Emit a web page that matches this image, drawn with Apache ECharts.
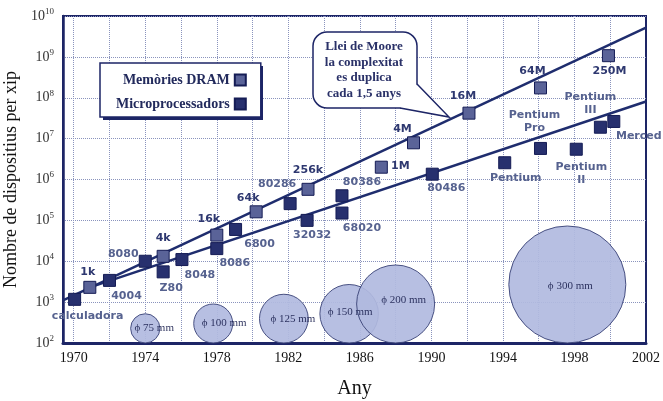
<!DOCTYPE html>
<html>
<head>
<meta charset="utf-8">
<script src="https://cdn.jsdelivr.net/npm/echarts@6/dist/echarts.min.js"></script>
<style>
  html, body { margin: 0; padding: 0; background: #fff; }
  #chart { width: 663px; height: 401px; }
</style>
</head>
<body>
<div id="chart"></div>
<script>
var dramNames = ['1k', '4k', '16k', '64k', '256k', '1M', '4M', '16M', '64M', '250M'];
var dramYears = [1970.9, 1975.0, 1978.0, 1980.2, 1983.1, 1987.2, 1989.0, 1992.1, 1996.1, 1999.9];
var dramCounts = [2300, 13200, 43600, 162000, 575000, 2.0e6, 7.9e6, 4.2e7, 1.74e8, 1.07e9];

var cpuNames = ['calculadora', '4004', '8080', 'Z80', '8048', '8086', '6800', '80286', '32032',
  '80386', '68020', '80486', 'Pentium', 'Pentium\nPro', 'Pentium\nII', 'Pentium\nIII', 'Merced'];
var cpuYears = [1970.05, 1972.0, 1974.0, 1975.0, 1976.05, 1978.0, 1979.05, 1982.1, 1983.05,
  1985.0, 1985.0, 1990.05, 1994.1, 1996.1, 1998.1, 1999.45, 2000.2];
var cpuCounts = [1170, 3400, 10000, 5500, 11000, 20400, 60000, 257000, 100000,
  400000, 151000, 1.35e6, 2.57e6, 5.75e6, 5.5e6, 1.9e7, 2.63e7];

// trend lines, end points
var dramTrendYears = [1969.4, 2002];
var dramTrendCounts = [1.1e3, 5.2e9];
var cpuTrendYears = [1970.9, 2002];
var cpuTrendCounts = [2.3e3, 8.1e7];

// wafer diameters (mm) and where they sit on the time axis
var waferMm = [75, 100, 125, 150, 200, 300];
var waferYears = [1974.0, 1977.8, 1981.75, 1985.4, 1988.0, 1997.6];

var yearLabels = [1970, 1974, 1978, 1982, 1986, 1990, 1994, 1998, 2002];
var gridYears = [1970, 1972, 1974, 1976, 1978, 1980, 1982, 1984, 1986, 1988, 1990, 1992, 1994, 1996, 1998, 2000];

// label placement (offset from the marker centre, px)
var labelOffset = {
  '1k': [-2, -15], '4k': [0, -18], '16k': [-8, -16], '64k': [-8, -14], '256k': [0, -19],
  '1M': [19, -1], '4M': [-11, -14], '16M': [-6, -17], '64M': [-8, -17], '250M': [1, 15],
  'calculadora': [13, 17], '4004': [17, 16], '8080': [-22, -7], 'Z80': [8, 16], '8048': [18, 16],
  '8086': [18, 15], '6800': [24, 15], '80286': [-13, -19], '32032': [5, 15], '80386': [20, -14],
  '68020': [20, 15], '80486': [14, 14], 'Pentium': [11, 15], 'Pentium\nPro': [-6, -27],
  'Pentium\nII': [5, 24], 'Pentium\nIII': [-10, -24], 'Merced': [25, 15]
};
var waferLabelOffset = [[9, 0], [11, 0], [9, 0], [1, -2], [8, -4], [3, 2]];

var navy = '#1d2566';
var gridCol = '#8a93bd';

function pts(names, xs, ys, labelColor) {
  return xs.map(function(x, i) {
    return {
      name: names[i],
      value: [x, ys[i]],
      label: { offset: labelOffset[names[i]], color: labelColor }
    };
  });
}

var chart = echarts.init(document.getElementById('chart'), null, { renderer: 'canvas' });
chart.setOption({
  animation: false,
  grid: {
    left: 63, right: 17, top: 16, bottom: 58,
    show: true, borderColor: navy, borderWidth: 2,
    outerBoundsMode: 'none'
  },
  legend: {
    left: 100, top: 63, z: 6,
    orient: 'vertical',
    align: 'right',
    selectedMode: false,
    data: ['Memòries DRAM', 'Microprocessadors'],
    icon: 'rect',
    itemWidth: 11, itemHeight: 11, itemGap: 10,
    padding: [10, 14, 6, 16],
    backgroundColor: '#fff',
    borderColor: navy, borderWidth: 1.5,
    textStyle: { fontFamily: 'Liberation Serif', fontWeight: 'bold', fontSize: 14, color: '#222a5c' }
  },
  xAxis: {
    type: 'value',
    min: 1969.4, max: 2002,
    name: 'Any',
    nameLocation: 'middle',
    nameGap: 36,
    nameTextStyle: { fontFamily: 'Liberation Serif', fontSize: 20, color: '#111' },
    axisLine: { lineStyle: { color: navy, width: 3 } },
    axisTick: { show: false, customValues: gridYears },
    splitLine: { show: true, lineStyle: { color: gridCol, type: 'dotted', width: 1 } },
    axisLabel: {
      customValues: yearLabels,
      margin: 8,
      fontFamily: 'Liberation Serif', fontSize: 14, color: '#111',
      formatter: function(v) { return String(Math.round(v)); }
    }
  },
  yAxis: {
    type: 'log',
    logBase: 10,
    min: 100, max: 1e10,
    name: 'Nombre de dispositius per xip',
    nameLocation: 'middle',
    nameGap: 32,
    nameTextStyle: { fontFamily: 'Liberation Serif', fontSize: 18, color: '#111' },
    axisLine: { lineStyle: { color: navy, width: 2.5 } },
    axisTick: { show: false },
    splitLine: { lineStyle: { color: gridCol, type: 'dotted', width: 1 } },
    axisLabel: {
      margin: 9,
      fontFamily: 'Liberation Serif', fontSize: 14, color: '#333',
      formatter: function(v) { return '10{e|' + Math.round(Math.log10(v)) + '}'; },
      rich: { e: { fontFamily: 'Liberation Serif', fontSize: 9, color: '#333', padding: [0, 0, 9, 0] } }
    }
  },
  series: [
    {
      type: 'scatter', name: 'wafers', z: 1, silent: true,
      data: waferYears.map(function(y) { return [y, 100]; }),
      symbol: 'circle',
      symbolSize: function(v, p) { return waferMm[p.dataIndex] * 0.39; },
      symbolOffset: [0, '-50%'],
      itemStyle: { color: '#b1badf', borderColor: '#3c4478', borderWidth: 1, opacity: 0.92 },
      label: {
        show: true, position: 'inside',
        fontFamily: 'Liberation Serif', fontSize: 11, color: '#1c2250',
        formatter: function(p) { return 'ϕ ' + waferMm[p.dataIndex] + ' mm'; }
      },
      labelLayout: function(p) {
        var o = waferLabelOffset[p.dataIndex];
        return { dx: o[0], dy: o[1] };
      }
    },
    {
      type: 'line', name: 'dramTrend', z: 2, silent: true,
      data: dramTrendYears.map(function(y, i) { return [y, dramTrendCounts[i]]; }),
      symbol: 'none',
      lineStyle: { color: '#1f2d6e', width: 2.5 }
    },
    {
      type: 'line', name: 'cpuTrend', z: 2, silent: true,
      data: cpuTrendYears.map(function(y, i) { return [y, cpuTrendCounts[i]]; }),
      symbol: 'none',
      lineStyle: { color: '#1f2d6e', width: 2.5 }
    },
    {
      type: 'scatter', name: 'Memòries DRAM', z: 3,
      data: pts(dramNames, dramYears, dramCounts, '#2e3870'),
      symbol: 'rect', symbolSize: 12,
      itemStyle: { color: '#5a6398', borderColor: '#151c55', borderWidth: 1, opacity: 1 },
      label: {
        show: true, position: 'inside',
        fontFamily: 'DejaVu Sans', fontWeight: 'bold', fontSize: 11, lineHeight: 13,
        formatter: function(p) { return p.name; }
      }
    },
    {
      type: 'scatter', name: 'Microprocessadors', z: 3,
      data: pts(cpuNames, cpuYears, cpuCounts, '#56628f'),
      symbol: 'rect', symbolSize: 12,
      itemStyle: { color: '#27306e', borderColor: '#151c55', borderWidth: 1, opacity: 1 },
      label: {
        show: true, position: 'inside',
        fontFamily: 'DejaVu Sans', fontWeight: 'bold', fontSize: 11, lineHeight: 13,
        formatter: function(p) { return p.name; }
      }
    }
  ],
  graphic: [
    {
      // drop shadow behind the legend box
      type: 'rect', z: 5,
      shape: { x: 103, y: 66, width: 160, height: 54 },
      style: { fill: navy }
    },
    {
      type: 'rect', z: 10,
      shape: { x: 313, y: 32, width: 104, height: 76, r: 14 },
      style: { fill: '#fff', stroke: navy, lineWidth: 1.5 }
    },
    {
      type: 'polygon', z: 11,
      shape: { points: [[400, 108], [449, 117], [417, 84]] },
      style: { fill: '#fff', stroke: null }
    },
    {
      type: 'polyline', z: 12,
      shape: { points: [[400, 108], [449, 117], [417, 84]] },
      style: { fill: null, stroke: navy, lineWidth: 1.5 }
    },
    {
      type: 'text', z: 13, x: 364, y: 70,
      style: {
        text: 'Llei de Moore\nla complexitat\nes duplica\ncada 1,5 anys',
        align: 'center', verticalAlign: 'middle',
        fontFamily: 'Liberation Serif', fontWeight: 'bold', fontSize: 13, lineHeight: 15.5,
        fill: '#2a3168'
      }
    }
  ]
});
window.addEventListener('resize', function() { chart.resize(); });
</script>
</body>
</html>
